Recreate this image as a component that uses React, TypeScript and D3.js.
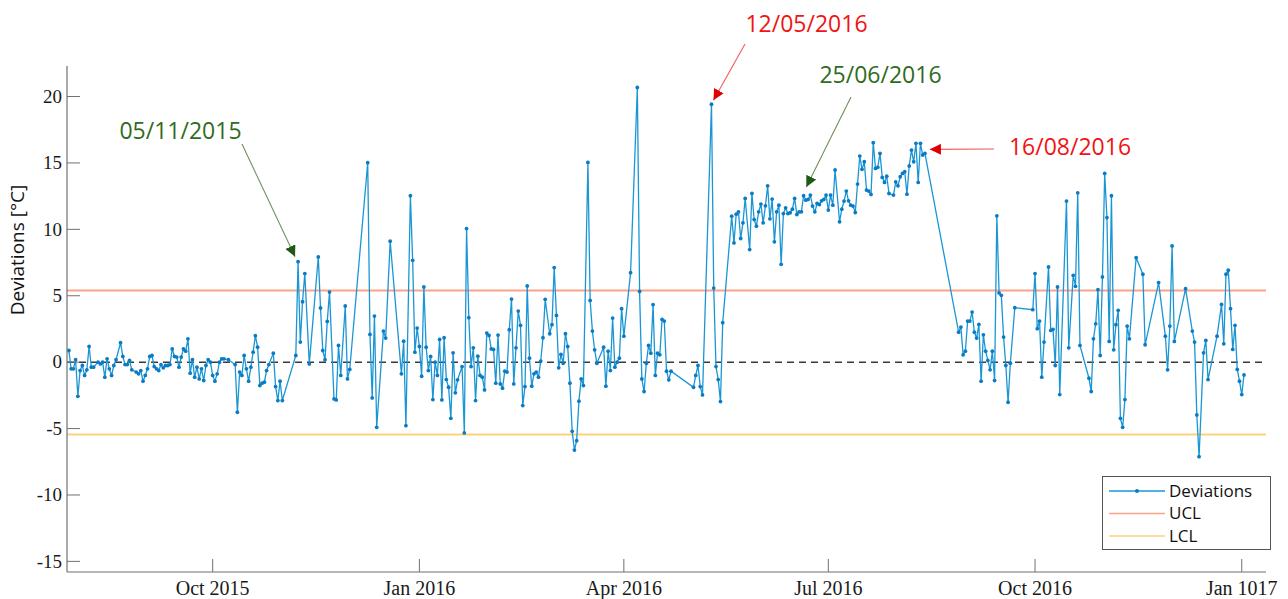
import React from "react";
import * as d3 from "d3";

// daily temperature deviations
const dates = [
  "2015-07-29","2015-07-30","2015-07-31",
  "2015-08-01","2015-08-02","2015-08-03","2015-08-04","2015-08-05","2015-08-06","2015-08-07","2015-08-08","2015-08-09","2015-08-11",
  "2015-08-12","2015-08-13","2015-08-14","2015-08-15","2015-08-16","2015-08-17","2015-08-18","2015-08-19","2015-08-21","2015-08-22",
  "2015-08-23","2015-08-24","2015-08-25","2015-08-26","2015-08-28","2015-08-29","2015-08-30","2015-08-31",
  "2015-09-01","2015-09-02","2015-09-03","2015-09-04","2015-09-05","2015-09-06","2015-09-07","2015-09-08","2015-09-09","2015-09-10",
  "2015-09-11","2015-09-12","2015-09-13","2015-09-14","2015-09-15","2015-09-16","2015-09-17","2015-09-18","2015-09-19","2015-09-20",
  "2015-09-21","2015-09-22","2015-09-23","2015-09-24","2015-09-25","2015-09-26","2015-09-27","2015-09-28","2015-09-29","2015-09-30",
  "2015-10-01","2015-10-02","2015-10-03","2015-10-04","2015-10-05","2015-10-06","2015-10-08","2015-10-11","2015-10-12","2015-10-13",
  "2015-10-14","2015-10-15","2015-10-16","2015-10-17","2015-10-18","2015-10-19","2015-10-20","2015-10-21","2015-10-22","2015-10-23",
  "2015-10-24","2015-10-25","2015-10-26","2015-10-28","2015-10-29","2015-10-30","2015-10-31",
  "2015-11-01","2015-11-07","2015-11-08","2015-11-09","2015-11-10","2015-11-11","2015-11-13","2015-11-17","2015-11-18","2015-11-19",
  "2015-11-20","2015-11-21","2015-11-22","2015-11-24","2015-11-25","2015-11-26","2015-11-27","2015-11-29","2015-11-30",
  "2015-12-01","2015-12-09","2015-12-10","2015-12-11","2015-12-12","2015-12-13","2015-12-16","2015-12-17","2015-12-19","2015-12-24",
  "2015-12-25","2015-12-26","2015-12-28","2015-12-29","2015-12-30","2015-12-31",
  "2016-01-01","2016-01-02","2016-01-03","2016-01-04","2016-01-05","2016-01-06","2016-01-07","2016-01-08","2016-01-09","2016-01-10",
  "2016-01-11","2016-01-12","2016-01-13","2016-01-14","2016-01-15","2016-01-16","2016-01-17","2016-01-18","2016-01-20","2016-01-21",
  "2016-01-22","2016-01-23","2016-01-24","2016-01-25","2016-01-26","2016-01-27","2016-01-28","2016-01-29","2016-01-30","2016-01-31",
  "2016-02-01","2016-02-02","2016-02-03","2016-02-04","2016-02-05","2016-02-06","2016-02-07","2016-02-08","2016-02-09","2016-02-10",
  "2016-02-11","2016-02-12","2016-02-13","2016-02-14","2016-02-15","2016-02-16","2016-02-17","2016-02-18","2016-02-19","2016-02-20",
  "2016-02-21","2016-02-22","2016-02-23","2016-02-24","2016-02-25","2016-02-26","2016-02-28","2016-02-29",
  "2016-03-01","2016-03-02","2016-03-03","2016-03-04","2016-03-05","2016-03-06","2016-03-07","2016-03-08","2016-03-09","2016-03-10",
  "2016-03-11","2016-03-12","2016-03-13","2016-03-14","2016-03-16","2016-03-17","2016-03-18","2016-03-19","2016-03-20","2016-03-23",
  "2016-03-24","2016-03-25","2016-03-26","2016-03-27","2016-03-28","2016-03-29","2016-03-30","2016-03-31",
  "2016-04-01","2016-04-04","2016-04-07","2016-04-08","2016-04-09","2016-04-10","2016-04-11","2016-04-12","2016-04-13","2016-04-14",
  "2016-04-15","2016-04-16","2016-04-17","2016-04-18","2016-04-19","2016-04-20","2016-04-21","2016-04-22",
  "2016-05-02","2016-05-03","2016-05-04","2016-05-05","2016-05-06","2016-05-10","2016-05-11","2016-05-12","2016-05-13","2016-05-14",
  "2016-05-15","2016-05-19","2016-05-20","2016-05-21","2016-05-22","2016-05-23","2016-05-24","2016-05-25","2016-05-27","2016-05-28",
  "2016-05-29","2016-05-30","2016-05-31",
  "2016-06-01","2016-06-02","2016-06-03","2016-06-04","2016-06-05","2016-06-06","2016-06-07","2016-06-08","2016-06-09","2016-06-10",
  "2016-06-11","2016-06-12","2016-06-13","2016-06-14","2016-06-15","2016-06-16","2016-06-17","2016-06-18","2016-06-19","2016-06-20",
  "2016-06-21","2016-06-22","2016-06-23","2016-06-24","2016-06-25","2016-06-26","2016-06-27","2016-06-28","2016-06-29","2016-06-30",
  "2016-07-01","2016-07-02","2016-07-03","2016-07-04","2016-07-06","2016-07-07","2016-07-08","2016-07-09","2016-07-10","2016-07-11",
  "2016-07-12","2016-07-13","2016-07-14","2016-07-15","2016-07-16","2016-07-17","2016-07-18","2016-07-19","2016-07-20","2016-07-21",
  "2016-07-22","2016-07-23","2016-07-24","2016-07-25","2016-07-26","2016-07-27","2016-07-28","2016-07-30","2016-07-31",
  "2016-08-01","2016-08-02","2016-08-03","2016-08-04","2016-08-05","2016-08-06","2016-08-07","2016-08-08","2016-08-09","2016-08-10",
  "2016-08-11","2016-08-12","2016-08-13","2016-08-28","2016-08-29","2016-08-30","2016-08-31",
  "2016-09-01","2016-09-02","2016-09-03","2016-09-04","2016-09-05","2016-09-06","2016-09-07","2016-09-08","2016-09-09","2016-09-10",
  "2016-09-11","2016-09-12","2016-09-13","2016-09-14","2016-09-15","2016-09-16","2016-09-17","2016-09-18","2016-09-19","2016-09-20",
  "2016-09-22","2016-09-30",
  "2016-10-01","2016-10-02","2016-10-03","2016-10-04","2016-10-05","2016-10-07","2016-10-08","2016-10-09","2016-10-10","2016-10-11",
  "2016-10-12","2016-10-15","2016-10-16","2016-10-18","2016-10-19","2016-10-20","2016-10-21","2016-10-25","2016-10-26","2016-10-27",
  "2016-10-28","2016-10-29","2016-10-30","2016-10-31",
  "2016-11-01","2016-11-02","2016-11-03","2016-11-04","2016-11-05","2016-11-06","2016-11-07","2016-11-08","2016-11-09","2016-11-10",
  "2016-11-11","2016-11-12","2016-11-15","2016-11-18","2016-11-19","2016-11-25","2016-11-28","2016-11-29","2016-11-30",
  "2016-12-01","2016-12-02","2016-12-07","2016-12-10","2016-12-11","2016-12-12","2016-12-13","2016-12-15","2016-12-16","2016-12-17",
  "2016-12-21","2016-12-23","2016-12-24","2016-12-25","2016-12-26","2016-12-27","2016-12-28","2016-12-29","2016-12-30","2016-12-31",
  "2017-01-01","2017-01-02",
];

const deviations = [
  0.88, -0.5, -0.5,
  0.18, -2.57, -0.63, -0.25, -1.0, -0.58, 1.18, -0.38, -0.38, 0,
  -0.13, 0, -1.13, 0.25, -0.5, -1.0, -0.25, 0.18, 1.46, 0.43,
  -0.18, -0.18, 0.13, -0.58, -0.75, -0.88, -0.63, -1.43,
  -1.0, -0.5, 0.43, 0.5, -0.33, -0.5, -0.63, -0.18, -0.43, -0.25,
  -0.25, -0.18, 1.0, 0.43, 0.38, -0.38, 0.38, 1.0, 0.83, 1.76,
  -0.83, 0.18, -1.13, -0.38, -1.26, -0.5, -1.38, -0.25, 0.18, 0.0,
  -1.0, -1.43, -0.88, 0.0, 0.25, 0.25, 0.18, -0.18, -3.77, -0.75,
  -1.0, 0.5, -0.5, -1.43, -0.38, 0.75, 1.99, 1.13, -1.76, -1.58,
  -1.51, -0.63, -0.18, 0.68, -1.84, -2.89, -1.43,
  -2.89, 0.5, 7.57, 1.51, 4.55, 6.67, -0.13, 7.92, 4.08, 0.88,
  0.18, 3.07, 5.28, -2.77, -2.84, 1.26, -1.0, 4.23, -1.26,
  -0.55, 15.02, 2.09, -2.69, 3.47, -4.91, 2.34, 1.81, 9.11, -0.88,
  1.58, -4.78, 12.53, 7.67, 0.75, 2.57,
  1.18, -1.06, 5.66, 1.13, -0.63, 0.43, -2.82, 0, -1.0, 1.71,
  -2.84, 1.84, -1.31, -1.89, -4.23, 0.7, -2.31, -1.33, -0.33, -5.33,
  10.06, 3.35, -0.33, 1.08, -2.89, 0.45, -1.0, -1.13, -2.09, 2.19,
  2.01, 1.0, 0.96, -1.58, 2.04, -1.64, -1.96, -0.68, -0.75, 2.44,
  4.75, -1.64, 1.08, 3.85, 2.77, -3.27, -1.84, 5.74, 0.3, -1.81,
  -0.88, -0.75, -1.13, 0.08, 1.84, 4.73, 2.14, 2.82,
  7.12, 3.52, -0.43, 0.58, -0.08, 2.14, 1.18, -1.58, -5.21, -6.62,
  -5.91, -2.94, -1.26, -1.76, 15.04, 4.65, 2.34, 0.93, -0.08, 1.13,
  -1.81, 0.83, -0.63, 3.32, -0.38, 0, 0.3, 4.03,
  1.96, 6.74, 20.68, 5.33, -1.26, -2.21, -0.08, 1.26, 0.68, 4.33,
  -1.0, 0.68, 0.55, 3.22, 3.09, -0.68, -1.33, -0.68,
  -1.89, -1.0, -0.25, -1.84, -2.47, 19.42, 5.58, -0.33, -1.31, -2.97,
  2.97, 10.99, 8.98, 11.14, 11.32, 9.31, 10.49, 12.33, 8.48, 12.7,
  10.74, 10.24, 11.32,
  11.9, 10.49, 11.77, 13.28, 10.79, 12.28, 9.06, 11.32, 11.82, 7.37,
  11.19, 11.62, 11.19, 11.25, 11.52, 12.33, 11.12, 11.32, 11.32, 12.53,
  12.2, 12.25, 12.58, 11.75, 11.32, 11.95, 11.87, 12.15, 12.25, 12.58,
  11.45, 12.58, 11.82, 14.47, 10.57, 11.52, 12.13, 12.88, 12.15, 11.82,
  11.75, 11.27, 13.41, 15.52, 14.52, 15.09, 12.96, 12.88, 12.63, 16.53,
  14.59, 14.67, 15.72, 13.91, 13.53, 14.0, 12.7, 12.58, 13.58,
  13.28, 13.96, 14.21, 14.34, 12.65, 14.77, 15.97, 15.09, 16.48, 13.53,
  16.48, 15.6, 15.72, 2.26, 2.64, 0.55, 0.83,
  3.09, 3.09, 3.77, 2.26, 1.81, 2.84, -1.43, 2.06, 0.83, 0.13,
  -0.58, 0.83, -1.38, 11.02, 5.21, 5.03, 1.89, -0.25, -3.02, -0.08,
  4.1, 3.95,
  6.67, 2.52, 3.09, -1.13, 1.51, 7.17, 2.39, 2.47, -0.25, 5.66,
  -2.44, 12.13, 1.08, 6.54, 5.71, 12.75, 1.26, -1.21, -2.21, 1.76,
  2.89, 5.46, 0.5, 6.42,
  14.21, 10.89, 1.56, 12.53, 0.93, 2.82, 3.9, -4.23, -4.91, -2.82,
  2.72, 1.76, 7.87, 6.62, 1.31, 5.99, 1.96, -0.58, 2.72,
  8.75, 1.56, 5.53, 2.34, 1.51, -3.97, -7.12, 0.7, 1.64, -1.31,
  1.96, 4.35, 1.38, 6.62, 6.92, 4.03, 0.96, 2.77, -0.55, -1.43,
  -2.44, -0.96,
];

const UCL = 5.4;
const LCL = -5.45;

const yTicks = [-15, -10, -5, 0, 5, 10, 15, 20];
const xTickDates = ["2015-10-01", "2016-01-01", "2016-04-01", "2016-07-01", "2016-10-01", "2017-01-01"];
const xTickLabels = ["Oct 2015", "Jan 2016", "Apr 2016", "Jul 2016", "Oct 2016", "Jan 1017"];

const annotationLabels = ["05/11/2015", "12/05/2016", "25/06/2016", "16/08/2016"];
const annotationDates = ["2015-11-08", "2016-05-10", "2016-06-23", "2016-08-13"];
const annotationColors = ["#2f6b22", "#f01414", "#2f6b22", "#f01414"];

const parse = d3.timeParse("%Y-%m-%d");

const W = 1288, H = 599;
const m = { left: 67, top: 66, right: 1266, bottom: 572 };

export default function App() {
  const x = d3.scaleTime()
    .domain([new Date(2015, 6, 28, 4), new Date(2017, 0, 11, 19)])
    .range([m.left, m.right]);
  const y = d3.scaleLinear().domain([-15.8, 22.3]).range([m.bottom, m.top]);

  const pts = dates.map((d, i) => ({ date: parse(d) as Date, v: deviations[i] }));
  const line = d3.line<any>().x(d => x(d.date)).y(d => y(d.v));

  const axisCol = "#707070";
  const blue = "#1b96d4";

  // arrow geometry: tail / text in page pixels, tip offset from the annotated point
  const ann = [
    { tx: 180.5, ty: 139, tail: [242, 144], off: [-3, -5] },
    { tx: 806.5, ty: 32, tail: [745, 44], off: [2, -4] },
    { tx: 880.5, ty: 83, tail: [851, 97], off: [-4, -8] },
    { tx: 1070, ty: 155, tail: [994, 149], off: [5, -4] },
  ];

  return (
    <svg width={W} height={H} style={{ position: "absolute", left: 0, top: 0, background: "#fff" }}>
      <defs>
        {annotationColors.map((c, i) => (
          <marker key={i} id={"ah" + i} viewBox="0 0 10 10" refX="10" refY="5"
            markerWidth="11" markerHeight="11" markerUnits="userSpaceOnUse" orient="auto">
            <path d="M0,0 L10,5 L0,10 z" fill={i % 2 ? "#e00000" : "#1f5a14"} />
          </marker>
        ))}
      </defs>

      {/* control limits and centre line */}
      <line x1={m.left} x2={m.right} y1={y(UCL)} y2={y(UCL)} stroke="#f9a488" strokeWidth={2} />
      <line x1={m.left} x2={m.right} y1={y(LCL)} y2={y(LCL)} stroke="#fdd27c" strokeWidth={2} />
      <line x1={m.left} x2={m.right} y1={y(0)} y2={y(0)} stroke="#3a3a3a" strokeWidth={1.5} strokeDasharray="7,5" />

      {/* series */}
      <path d={line(pts) as string} fill="none" stroke={blue} strokeWidth={1.3} />
      {pts.map((p, i) => (
        <circle key={i} cx={x(p.date)} cy={y(p.v)} r={1.9} fill="#0a7cc4" />
      ))}

      {/* axes */}
      <line x1={m.left} x2={m.left} y1={m.top} y2={m.bottom} stroke={axisCol} strokeWidth={1.2} />
      <line x1={m.left} x2={m.right} y1={m.bottom} y2={m.bottom} stroke={axisCol} strokeWidth={1.2} />
      {yTicks.map(t => (
        <g key={t}>
          <line x1={m.left} x2={m.left + 13} y1={y(t)} y2={y(t)} stroke={axisCol} />
          <text x={62} y={y(t)} dy="0.33em" textAnchor="end" fontFamily="'Liberation Serif', 'Times New Roman', serif"
            fontSize={19} fill="#1a1a1a">{t}</text>
        </g>
      ))}
      {xTickDates.map((t, i) => {
        const px = x(parse(t) as Date);
        return (
          <g key={t}>
            <line x1={px} x2={px} y1={m.bottom} y2={m.bottom - 13} stroke={axisCol} />
            <text x={px} y={595} textAnchor="middle" fontFamily="'Liberation Serif', 'Times New Roman', serif"
              fontSize={20} fill="#1a1a1a">{xTickLabels[i]}</text>
          </g>
        );
      })}
      <text transform="translate(24,250) rotate(-90)" textAnchor="middle" fontFamily="'Open Sans', sans-serif"
        fontSize={19} fill="#111">Deviations [°C]</text>

      {/* annotations */}
      {annotationLabels.map((lab, i) => {
        const a = ann[i];
        const k = dates.indexOf(annotationDates[i]);
        const px = x(pts[k].date) + a.off[0];
        const py = y(pts[k].v) + a.off[1];
        return (
          <g key={lab}>
            <line x1={a.tail[0]} y1={a.tail[1]} x2={px} y2={py}
              stroke={i % 2 ? "#f25a5a" : "#6f8f5f"} strokeWidth={1.1} markerEnd={`url(#ah${i})`} />
            <text x={a.tx} y={a.ty} textAnchor="middle" fontFamily="'Open Sans', sans-serif" fontSize={23}
              fill={annotationColors[i]}>{lab}</text>
          </g>
        );
      })}

      {/* legend */}
      <g fontFamily="'Open Sans', sans-serif" fontSize={17} fill="#111">
        <rect x={1102.5} y={476.5} width={168} height={73} fill="#fff" stroke="#555" />
        <line x1={1109} x2={1165} y1={491} y2={491} stroke={blue} strokeWidth={1.5} />
        <circle cx={1137} cy={491} r={2} fill="#0a7cc4" />
        <text x={1169} y={491} dy="0.35em">Deviations</text>
        <line x1={1109} x2={1165} y1={513.5} y2={513.5} stroke="#f9a488" strokeWidth={1.5} />
        <text x={1169} y={513.5} dy="0.35em">UCL</text>
        <line x1={1109} x2={1165} y1={536} y2={536} stroke="#fdd27c" strokeWidth={1.5} />
        <text x={1169} y={536} dy="0.35em">LCL</text>
      </g>
    </svg>
  );
}
